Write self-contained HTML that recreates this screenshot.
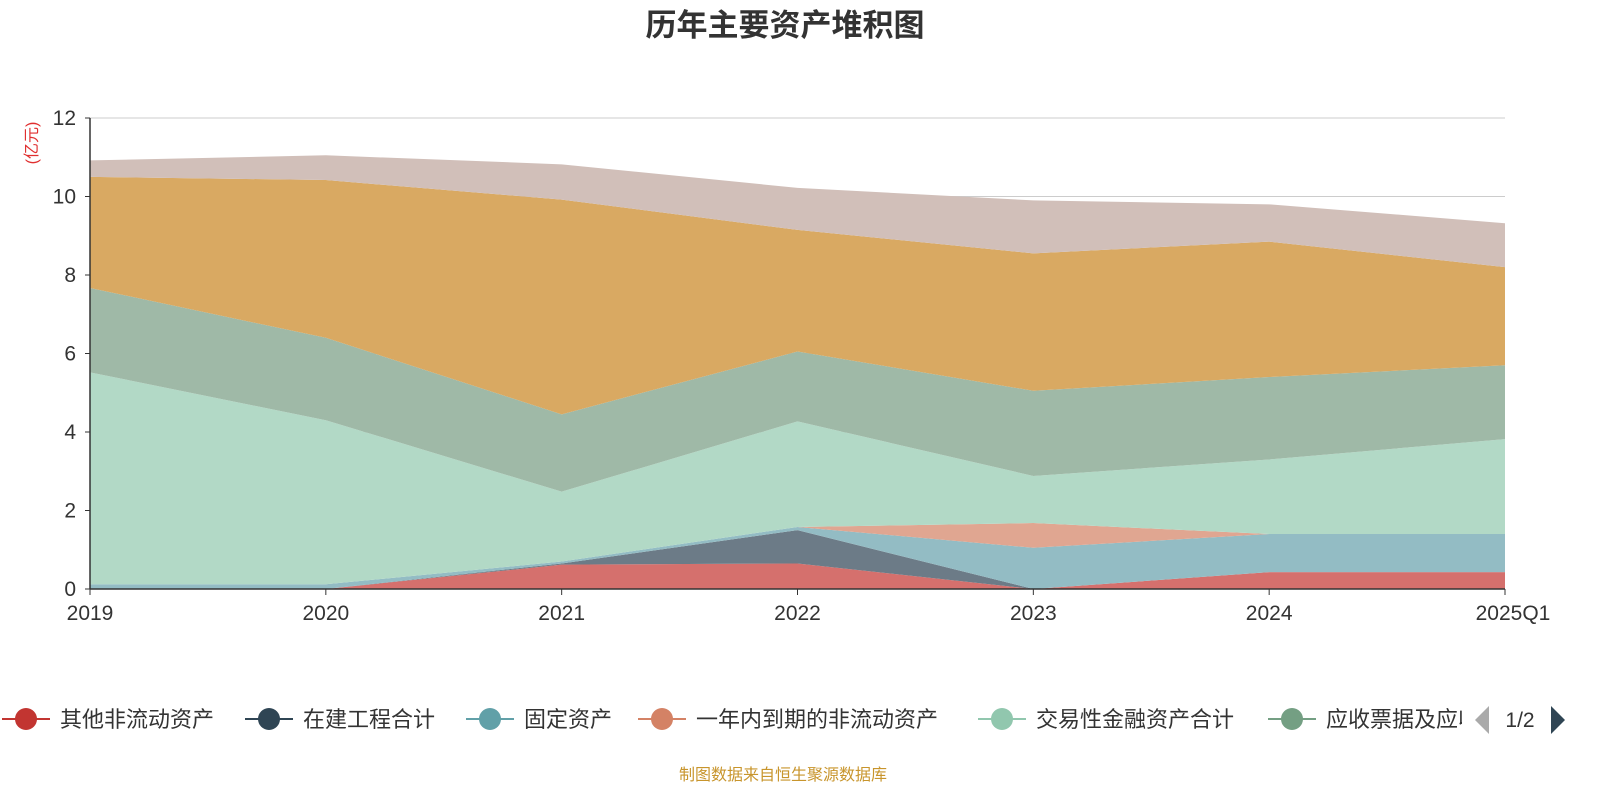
<!DOCTYPE html>
<html><head><meta charset="utf-8">
<style>
body{margin:0;background:#fff;width:1600px;height:800px;overflow:hidden;font-family:"Liberation Sans","Noto Sans CJK SC",sans-serif;}
svg text{font-family:"Liberation Sans","Noto Sans CJK SC",sans-serif;}
</style></head>
<body>
<svg id="chart" width="1600" height="800">
<text x="785" y="36" text-anchor="middle" font-size="31" font-weight="bold" fill="#333">历年主要资产堆积图</text>
<text transform="translate(37,143) rotate(-90)" text-anchor="middle" font-size="16" fill="#e03030">(亿元)</text>
<g id="grid"></g>
<g id="areas"></g>
<g id="axes"></g>
<g id="legend"></g>
<text x="783" y="780" text-anchor="middle" font-size="16" fill="#c8952c">制图数据来自恒生聚源数据库</text>
</svg>
<script>
const categories=["2019","2020","2021","2022","2023","2024","2025Q1"];
const yTicks=[0,2,4,6,8,10,12];
const seriesNames=["其他非流动资产","在建工程合计","固定资产","一年内到期的非流动资产","交易性金融资产合计","应收票据及应收账款","货币资金","其他"];
const s1=[0,0,0.62,0.65,0,0.43,0.43];
const s2=[0,0,0.03,0.85,0,0,0];
const s3=[0.12,0.12,0.05,0.08,1.05,0.97,0.97];
const s4=[0,0,0,0,0.63,0,0];
const s5=[5.4,4.18,1.78,2.69,1.2,1.9,2.42];
const s6=[2.15,2.1,1.97,1.78,2.17,2.1,1.88];
const s7=[2.83,4.02,5.47,3.1,3.5,3.45,2.5];
const s8=[0.42,0.63,0.9,1.07,1.35,0.95,1.12];
const seriesValues=[s1,s2,s3,s4,s5,s6,s7,s8];
const fills=["#d5706d","#6c7b87","#93bcc4","#e0a691","#b2d9c6","#9fb9a7","#d9a962","#d1bfb9"];
const legendColors=["#c23531","#2f4554","#61a0a8","#d48265","#91c7ae","#749f83"];
const X0=90,X1=1505,Y0=589,Y1=118,YMAX=12;
const xs=i=>X0+(X1-X0)*i/(categories.length-1);
const ys=v=>Y0-(Y0-Y1)*v/YMAX;
const NS="http://www.w3.org/2000/svg";
function mk(t,a,p){const e=document.createElementNS(NS,t);for(const k in a)e.setAttribute(k,a[k]);p.appendChild(e);return e;}
const grid=document.getElementById('grid'),areas=document.getElementById('areas'),axes=document.getElementById('axes'),legend=document.getElementById('legend');
yTicks.forEach(t=>{
 if(t>0){const l=mk('line',{x1:X0,x2:X1,y1:ys(t),y2:ys(t),stroke:'#ccc','stroke-width':1},grid);
 
 }
 const tx=mk('text',{x:X0-14,y:ys(t)+7,'text-anchor':'end','font-size':21,fill:'#333'},axes);tx.textContent=t;
 
 
 const tk=mk('line',{x1:X0-5,x2:X0,y1:ys(t),y2:ys(t),stroke:'#333'},axes);
 
 
});
let base=categories.map(()=>0);
seriesValues.forEach((vals,si)=>{
 const top=base.map((b,i)=>b+vals[i]);
 let d='M'+top.map((v,i)=>xs(i)+','+ys(v)).join(' L');
 for(let i=categories.length-1;i>=0;i--)d+=' L'+xs(i)+','+ys(base[i]);
 const p=mk('path',{d:d+'Z',fill:fills[si],stroke:'none'},areas);
 
 
 base=top;
});
const xa=mk('line',{x1:X0,x2:X1,y1:Y0,y2:Y0,stroke:'#333','stroke-width':1.5},axes);


const ya=mk('line',{x1:X0,x2:X0,y1:Y0,y2:Y1,stroke:'#333','stroke-width':1.5},axes);


categories.forEach((c,i)=>{
 const tk=mk('line',{x1:xs(i),x2:xs(i),y1:Y0,y2:Y0+6,stroke:'#333'},axes);
 
 
 const t=mk('text',{x:xs(i)+(i===categories.length-1?8:0),y:Y0+31,'text-anchor':'middle','font-size':21,fill:'#333'},axes);t.textContent=c;
 
 
});
const lx=[2,245,466,638,978,1268];
const legendLabels=["其他非流动资产","在建工程合计","固定资产","一年内到期的非流动资产","交易性金融资产合计","应收票据及应收账款"];
const clip=mk('clipPath',{id:'lc'},legend);mk('rect',{x:0,y:690,width:1462,height:60},clip);
const lg=mk('g',{'clip-path':'url(#lc)'},legend);
legendLabels.forEach((n,i)=>{
 const g=mk('g',{},lg);
 
 
 mk('line',{x1:lx[i],x2:lx[i]+48,y1:719,y2:719,stroke:legendColors[i],'stroke-width':2},g);
 mk('circle',{cx:lx[i]+24,cy:719,r:11,fill:legendColors[i]},g);
 const t=mk('text',{x:lx[i]+58,y:727,'font-size':22,fill:'#333'},g);t.textContent=n;
});
const pl=mk('path',{d:'M1489,706 L1475,720 L1489,734Z',fill:'#aaa'},legend);


const pt=mk('text',{x:1520,y:727,'text-anchor':'middle','font-size':21,fill:'#333'},legend);pt.textContent='1/2';


const pr=mk('path',{d:'M1551,706 L1565,720 L1551,734Z',fill:'#2f4554'},legend);


</script>
</body></html>
